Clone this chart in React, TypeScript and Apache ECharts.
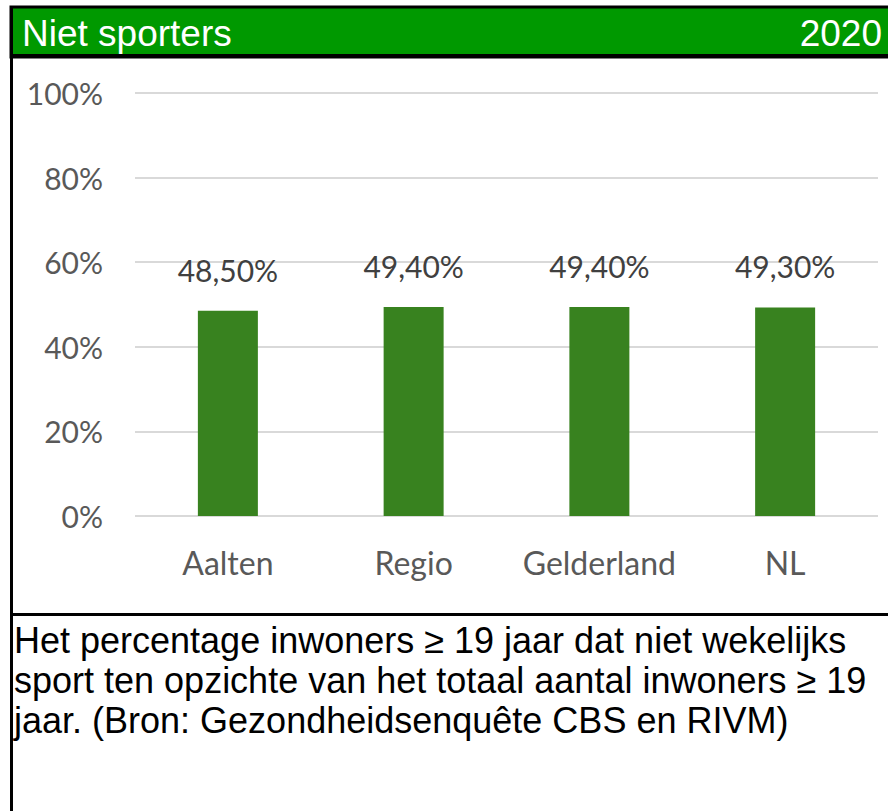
import React, { useEffect, useRef } from "react";
import * as echarts from "echarts";

const categories = ["Aalten", "Regio", "Gelderland", "NL"];
const values = [48.5, 49.4, 49.4, 49.3];
const valueLabels = ["48,50%", "49,40%", "49,40%", "49,30%"];
const yTicks = [0, 20, 40, 60, 80, 100];
const headerTitle = "Niet sporters";
const headerYear = "2020";
const noteLines = [
  "Het percentage inwoners ≥ 19 jaar dat niet wekelijks",
  "sport ten opzichte van het totaal aantal inwoners ≥ 19",
  "jaar. (Bron: Gezondheidsenquête CBS en RIVM)",
];

export default function App() {
  const ref = useRef<HTMLDivElement>(null);
  useEffect(() => {
    if (!ref.current) return;
    const chart = echarts.init(ref.current, null, { renderer: "svg" });
    const labelFont = "Lato, 'Open Sans', sans-serif";
    const arial = "'Liberation Sans', Arial, sans-serif";
    chart.setOption({
      animation: false,
      backgroundColor: "#ffffff",
      grid: { left: 135, right: 10, top: 93, bottom: 295 },
      xAxis: {
        type: "category",
        data: categories,
        axisLine: { show: false },
        axisTick: { show: false },
        axisLabel: {
          interval: 0,
          color: "#595959",
          fontFamily: labelFont,
          fontSize: 32,
          margin: 30,
        },
      },
      yAxis: {
        type: "value",
        min: yTicks[0],
        max: yTicks[yTicks.length - 1],
        interval: 20,
        axisLine: { show: false },
        axisTick: { show: false },
        splitLine: { lineStyle: { color: "#d9d9d9", width: 2 } },
        axisLabel: {
          color: "#595959",
          fontFamily: labelFont,
          fontSize: 30,
          margin: 32,
          formatter: (v: number) => `${v}%`,
        },
      },
      series: [
        {
          type: "bar",
          data: values,
          barWidth: 60,
          itemStyle: { color: "#38821F" },
          label: {
            show: true,
            position: "top",
            distance: 26,
            color: "#404040",
            fontFamily: labelFont,
            fontSize: 30,
            formatter: (p: any) => valueLabels[p.dataIndex],
          },
        },
      ],
      graphic: [
        {
          type: "rect",
          shape: { x: 11, y: 7, width: 900, height: 50 },
          style: { fill: "#009900", stroke: "#000000", lineWidth: 3 },
          z: 10,
        },
        {
          type: "line",
          shape: { x1: 11, y1: 56, x2: 888, y2: 56 },
          style: { stroke: "#000000", lineWidth: 4 },
          z: 11,
        },
        {
          type: "text",
          x: 22,
          y: 33,
          style: {
            text: headerTitle,
            fill: "#ffffff",
            fontFamily: arial,
            fontSize: 37,
            verticalAlign: "middle",
            textAlign: "left",
          },
          z: 12,
        },
        {
          type: "text",
          x: 882,
          y: 33,
          style: {
            text: headerYear,
            fill: "#ffffff",
            fontFamily: arial,
            fontSize: 37,
            verticalAlign: "middle",
            textAlign: "right",
          },
          z: 12,
        },
        {
          type: "line",
          shape: { x1: 11.5, y1: 7, x2: 11.5, y2: 811 },
          style: { stroke: "#000000", lineWidth: 3 },
          z: 11,
        },
        {
          type: "line",
          shape: { x1: 11, y1: 614.5, x2: 888, y2: 614.5 },
          style: { stroke: "#000000", lineWidth: 3 },
          z: 11,
        },
        ...noteLines.map((t, i) => ({
          type: "text",
          x: 14,
          y: 640 + i * 40,
          style: {
            text: t,
            fill: "#000000",
            fontFamily: arial,
            fontSize: 36,
            verticalAlign: "middle",
            textAlign: "left",
          },
          z: 12,
        })),
      ],
    });
    return () => chart.dispose();
  }, []);
  return (
    <div
      ref={ref}
      style={{ position: "fixed", left: 0, top: 0, width: 888, height: 811 }}
    />
  );
}
